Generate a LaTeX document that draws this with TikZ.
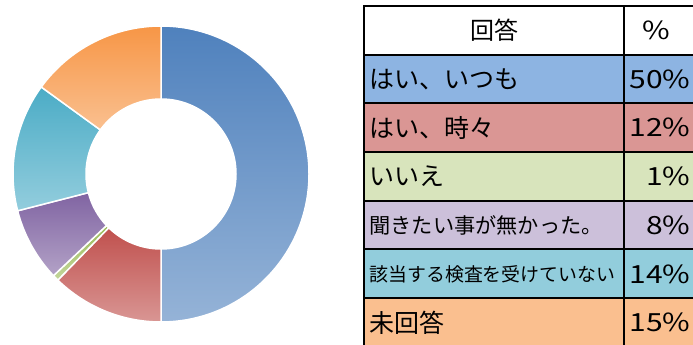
\documentclass[tikz,border=0pt]{standalone}
\usepackage{fontspec}
\setmainfont{Noto Sans CJK JP}
\newfontfamily\numfont[FakeStretch=1.2]{Noto Sans CJK JP}
\usetikzlibrary{positioning}

% slice colours (dark top / light bottom)
\definecolor{blueTop}{HTML}{4F81BD}
\definecolor{blueBot}{HTML}{95B3D7}
\definecolor{redTop}{HTML}{C0504D}
\definecolor{redBot}{HTML}{D99694}
\definecolor{greenTop}{HTML}{9BBB59}
\definecolor{greenBot}{HTML}{C3D69B}
\definecolor{purpleTop}{HTML}{8064A2}
\definecolor{purpleBot}{HTML}{B3A2C7}
\definecolor{tealTop}{HTML}{4BACC6}
\definecolor{tealBot}{HTML}{93CDDD}
\definecolor{orangeTop}{HTML}{F79646}
\definecolor{orangeBot}{HTML}{FAC090}
% table row colours
\definecolor{rowBlue}{HTML}{8DB4E2}
\definecolor{rowRed}{HTML}{DA9694}
\definecolor{rowGreen}{HTML}{D8E4BC}
\definecolor{rowPurple}{HTML}{CCC0DA}
\definecolor{rowTeal}{HTML}{92CDDC}
\definecolor{rowOrange}{HTML}{FABF8F}

\tikzset{
  cell/.style={rectangle,draw=black,line width=2pt,minimum height=48.7pt,anchor=north west,inner sep=0pt},
  slice/.style={draw=white,line width=1.5pt},
  pcttxt/.style={anchor=east,font=\numfont\fontsize{25}{25}\selectfont},
}

\begin{document}
\begin{tikzpicture}[x=1pt,y=1pt]
	\useasboundingbox (0,0) rectangle (693,345);
	\clip (0,0) rectangle (693,345);

	% donut
	\foreach \a/\b/\c in {90/-90/blue,-90/-134.2/red,-134.2/-136.6/green,-136.6/-165.6/purple,-165.6/-216/teal,-216/-270/orange}{
		\shadedraw[slice,top color=\c Top,bottom color=\c Bot,shift={(161,171)}]
			(\a:148) arc[start angle=\a,end angle=\b,radius=148] -- (\b:75) arc[start angle=\b,end angle=\a,radius=75] -- cycle;
	}

	% table header
	\node[cell,fill=white,minimum width=260pt] (head) at (363,340) {};
	\node[font=\fontsize{24}{25}\selectfont] (headtxt) at (head.center) {回答};
	\node[cell,fill=white,minimum width=80pt] (headpct) at (623,340) {};
	\node[font=\numfont\fontsize{25}{25}\selectfont] (headpcttxt) at ([xshift=-8pt]headpct.center) {\%};

	% table rows
	\foreach \i/\txt/\pct/\col/\fs in {1/はい、いつも/50/rowBlue/25,2/はい、時々/12/rowRed/25,3/いいえ/1/rowGreen/25,4/聞きたい事が無かった。/8/rowPurple/21.2,5/該当する検査を受けていない/14/rowTeal/18.9,6/未回答/15/rowOrange/25}{
		\node[cell,fill=\col,minimum width=260pt] (lab\i) at (363,{340-48.7*\i}) {};
		\node[anchor=west,font=\fontsize{\fs}{\fs}\selectfont] (labtxt\i) at ([xshift=3pt]lab\i.west) {\txt};
		\node[cell,fill=\col,minimum width=80pt] (pct\i) at (623,{340-48.7*\i}) {};
		\node[pcttxt] (pcttxt\i) at ([xshift=-11pt]pct\i.east) {\pct\%};
	}
\end{tikzpicture}
\end{document}
